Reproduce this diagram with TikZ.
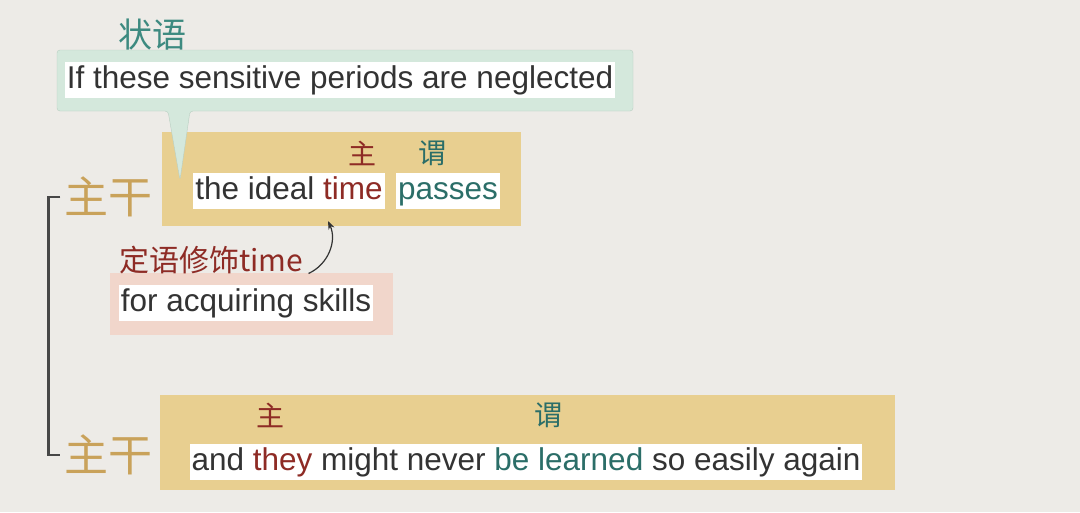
\documentclass[tikz,border=0pt]{standalone}
\usepackage{fontspec}
\setmainfont{Liberation Sans}
\newfontfamily\cjk{Noto Sans CJK SC}
\usetikzlibrary{arrows.meta}
\definecolor{paper}{HTML}{EDEBE7}
\definecolor{calloutgreen}{HTML}{D4E8DC}
\definecolor{calloutedge}{HTML}{B9CFC2}
\definecolor{boxyellow}{HTML}{E8CF90}
\definecolor{boxpink}{HTML}{F1D6CB}
\definecolor{subjred}{HTML}{8E2B25}
\definecolor{predteal}{HTML}{2B6E68}
\definecolor{advteal}{HTML}{3D8A80}
\definecolor{stemtan}{HTML}{C9A25A}
\definecolor{ink}{HTML}{333333}
\tikzset{
  word/.style={fill=white, inner xsep=2pt, inner ysep=3pt, text height=23pt, text depth=7pt,
    text=ink, font=\fontsize{31.5}{34}\selectfont},
  tag/.style={font=\cjk\fontsize{28}{30}\selectfont},
  stem/.style={font=\cjk\fontsize{44}{46}\selectfont, text=stemtan},
}
\begin{document}
\begin{tikzpicture}[x=1pt,y=-1pt,>=Stealth]
\fill[paper] (0,0) rectangle (1080,512);

% colour boxes
\fill[boxyellow] (162,132) rectangle (521,226);
\fill[boxpink] (110,273) rectangle (393,335);
\fill[boxyellow] (160,395) rectangle (895,490);

% callout with its tail
\draw[calloutedge, fill=calloutgreen, rounded corners=3]
  (57,50) -- (633,50) -- (633,111) -- (190,111) -- (180,180) -- (168,111) -- (57,111) -- cycle;

% sentence parts
\node[word] (ifclause) at (340,80) {If these sensitive periods are neglected};
\node[word] (ideal) at (289,191) {the ideal \textcolor{subjred}{time}};
\node[word] (passes) at (448,191) {\textcolor{predteal}{passes}};
\node[word] (skills) at (246,303) {for acquiring skills};
\node[word] (learned) at (526,462) {and \textcolor{subjred}{they} might never \textcolor{predteal}{be learned} so easily again};

% tags
\node[tag, text=advteal, font=\cjk\fontsize{34}{36}\selectfont] (advtag) at (152,35) {状语};
\node[tag, text=subjred] (subj1) at (362,153) {主};
\node[tag, text=predteal] (pred1) at (432,153) {谓};
\node[tag, text=subjred, font=\cjk\fontsize{30}{32}\selectfont] (modtag) at (211,260) {定语修饰time};
\node[tag, text=subjred] (subj2) at (270,415) {主};
\node[tag, text=predteal] (pred2) at (548,415) {谓};

\node[stem] (stem1) at (108,197) {主干};
\node[stem] (stem2) at (108,455) {主干};

% bracket and arrow
\draw[ink!90, line width=2.5pt] (stem1.west) -- ++(-12,0) |- (stem2.west);
\coordinate (timebot) at (328,221);
\draw[->, ink, line width=1.2pt] (modtag.south east) ++(2,-4) to[bend right=45] (timebot);
\end{tikzpicture}
\end{document}
